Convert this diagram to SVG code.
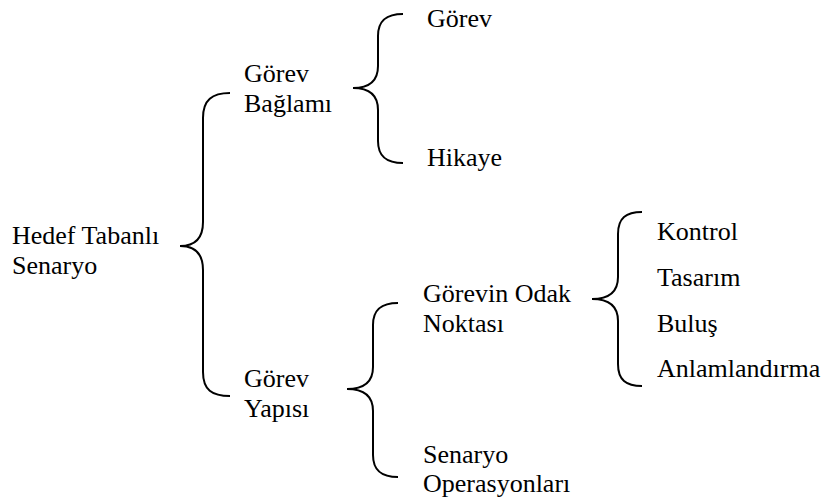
<svg xmlns="http://www.w3.org/2000/svg" width="824" height="503" viewBox="0 0 824 503">
<style>
.t{font-family:'Liberation Serif','Times New Roman',Times,serif;font-size:26px;fill:#000}
.br{fill:none;stroke:#000;stroke-width:2}
</style>
<rect width="824" height="503" fill="#fff"/>
<g id="connectors">
<path class="br" d="M230,93 C212,93 203,100 203,118 L203,222 C203,238 195,246 180,246 C195,246 203,254 203,270 L203,372 C203,390 212,396 230,396"/>
<path class="br" d="M403,14 C387,14 378,20 378,36 L378,66 C378,80 370,88 353,88 C370,88 378,96 378,110 L378,141 C378,157 387,163 403,163"/>
<path class="br" d="M398,303 C382,303 373,309 373,325 L373,367 C373,381 365,389 347,389 C365,389 373,397 373,411 L373,455 C373,471 382,477 398,477"/>
<path class="br" d="M642,212 C626,212 618,218 618,234 L618,277 C618,291 610,299 592,299 C610,299 618,307 618,321 L618,364 C618,380 626,386 642,386"/>
</g>
<g class="t">
<g id="root"><text x="12" y="244">Hedef Tabanlı</text><text x="12" y="274">Senaryo</text></g>
<g id="gorev-baglami"><text x="244" y="82">Görev</text><text x="244" y="112">Bağlamı</text></g>
<g id="gorev-yapisi"><text x="244" y="387">Görev</text><text x="244" y="417">Yapısı</text></g>
<g id="gorev"><text x="427" y="27">Görev</text></g>
<g id="hikaye"><text x="427" y="166">Hikaye</text></g>
<g id="odak"><text x="423" y="302">Görevin Odak</text><text x="423" y="332">Noktası</text></g>
<g id="operasyonlar"><text x="423" y="463">Senaryo</text><text x="423" y="492">Operasyonları</text></g>
<g id="kontrol"><text x="657" y="240">Kontrol</text></g>
<g id="tasarim"><text x="657" y="286">Tasarım</text></g>
<g id="bulus"><text x="657" y="332">Buluş</text></g>
<g id="anlamlandirma"><text x="657" y="377">Anlamlandırma</text></g>
</g>
</svg>
